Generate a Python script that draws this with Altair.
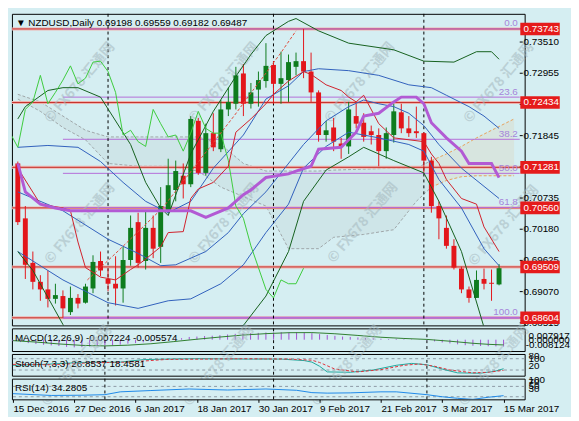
import altair as alt
import pandas as pd

# ---------------- values ----------------
title_text = "▼ NZDUSD,Daily  0.69198 0.69559 0.69182 0.69487"
date_labels = ["15 Dec 2016", "27 Dec 2016", "6 Jan 2017", "18 Jan 2017", "30 Jan 2017",
               "9 Feb 2017", "21 Feb 2017", "3 Mar 2017", "15 Mar 2017"]
date_ticks = [0, 8, 16, 24, 32, 40, 48, 56, 64]
month_starts = [12, 34, 54]

opens = [0.71350, 0.70373, 0.69581, 0.69244, 0.69109, 0.68941, 0.68991, 0.68705, 0.68958, 0.68873,
         0.69126, 0.69615, 0.69295, 0.69210, 0.69126, 0.69632, 0.70306, 0.69615, 0.70204, 0.69867,
         0.70508, 0.70878, 0.71131, 0.70980, 0.72108, 0.71182, 0.71889, 0.71603, 0.72311, 0.72412,
         0.72951, 0.72412, 0.72664, 0.72816, 0.73103, 0.72766, 0.72833, 0.73069, 0.73170, 0.72985,
         0.72614, 0.71856, 0.71990, 0.71704, 0.71653, 0.72193, 0.72075, 0.71923, 0.71856, 0.71569,
         0.71856, 0.72260, 0.71974, 0.71923, 0.71889, 0.71401, 0.70592, 0.70204, 0.69884, 0.69480,
         0.69109, 0.68958, 0.69295, 0.69227, 0.69198]
highs = [0.71384, 0.70592, 0.69783, 0.69362, 0.69446, 0.69210, 0.69092, 0.69160, 0.69025, 0.69210,
         0.69716, 0.69783, 0.69480, 0.69699, 0.69867, 0.70424, 0.70474, 0.70508, 0.70424, 0.70929,
         0.71434, 0.71401, 0.71350, 0.72193, 0.72159, 0.72058, 0.72243, 0.72479, 0.72698, 0.73069,
         0.73119, 0.72782, 0.72985, 0.73490, 0.73170, 0.73338, 0.73288, 0.73322, 0.73743, 0.73322,
         0.72650, 0.72108, 0.72159, 0.71805, 0.72445, 0.72412, 0.72243, 0.72024, 0.71974, 0.71990,
         0.72412, 0.72412, 0.72193, 0.72361, 0.71906, 0.71468, 0.70676, 0.70424, 0.70002, 0.69514,
         0.69160, 0.69446, 0.69480, 0.69463, 0.69559]
lows = [0.70255, 0.69295, 0.69109, 0.68907, 0.68789, 0.68857, 0.68604, 0.68654, 0.68772, 0.68857,
        0.69042, 0.69345, 0.69076, 0.68823, 0.68873, 0.69531, 0.69497, 0.69463, 0.69665, 0.69581,
        0.70457, 0.70676, 0.70727, 0.70929, 0.71148, 0.71131, 0.71569, 0.71552, 0.72193, 0.72311,
        0.72193, 0.72327, 0.72361, 0.72698, 0.72412, 0.72412, 0.72445, 0.72917, 0.72867, 0.72445,
        0.71738, 0.71738, 0.71569, 0.71434, 0.71519, 0.71974, 0.71738, 0.71687, 0.71300, 0.71434,
        0.71721, 0.71889, 0.71822, 0.71805, 0.71182, 0.70474, 0.70002, 0.69834, 0.69463, 0.69042,
        0.68873, 0.68958, 0.69109, 0.68907, 0.69182]
closes = [0.70306, 0.69547, 0.69244, 0.69109, 0.68941, 0.69008, 0.68772, 0.68958, 0.68857, 0.69160,
          0.69598, 0.69446, 0.69210, 0.69126, 0.69632, 0.70204, 0.69581, 0.70204, 0.69834, 0.70592,
          0.70963, 0.71215, 0.70980, 0.72142, 0.71182, 0.71889, 0.71637, 0.72311, 0.72445, 0.72917,
          0.72412, 0.72614, 0.72833, 0.73086, 0.72766, 0.72867, 0.73153, 0.73170, 0.72985, 0.72614,
          0.71856, 0.71940, 0.71738, 0.71653, 0.72311, 0.72058, 0.71822, 0.71856, 0.71569, 0.71889,
          0.72277, 0.71974, 0.71889, 0.71889, 0.71401, 0.70592, 0.70373, 0.69884, 0.69497, 0.69109,
          0.68958, 0.69278, 0.69210, 0.69210, 0.69487]

level_prices = [0.73743, 0.72434, 0.71281, 0.70560, 0.69509, 0.68604]
level_labels = ["0.73743", "0.72434", "0.71281", "0.70560", "0.69509", "0.68604"]
tick_prices = [0.73510, 0.72955, 0.72400, 0.71845, 0.71290, 0.70735, 0.70180, 0.69625, 0.69070, 0.68515]
tick_labels = ["0.73510", "0.72955", "0.72400", "0.71845", "0.71290", "0.70735", "0.70180",
               "0.69625", "0.69070", "0.68515"]
fib_prices = [0.73743, 0.72530, 0.71780, 0.71174, 0.70567, 0.68604]
fib_labels = ["0.0", "23.6", "38.2", "50.0", "61.8", "100.0"]
fib_widths = [1, 1, 1, 1, 1, 2]
fib_start_bar = 6

bb_up_bar = [0, 4, 8, 11, 14, 17, 20, 23, 26, 30, 33, 36, 38, 40, 44, 48, 52, 55, 57, 60, 62, 64]
bb_up_val = [0.71637, 0.71670, 0.71637, 0.71384, 0.71013, 0.70676, 0.70474, 0.70676, 0.71266, 0.71856,
             0.72496, 0.72732, 0.72985, 0.73035, 0.73001, 0.72917, 0.72749, 0.72698, 0.72563, 0.72361,
             0.72193, 0.71974]
bb_mid_bar = [0, 6, 12, 16, 19, 21, 25, 28, 30, 33, 35, 38, 41, 44, 46, 48, 50, 52, 54, 56, 59, 64]
bb_mid_val = [0.70845, 0.70508, 0.70002, 0.69750, 0.69531, 0.69547, 0.69783, 0.70120, 0.70457, 0.70845,
              0.71182, 0.71687, 0.72108, 0.72361, 0.72479, 0.72412, 0.72361, 0.72243, 0.72024, 0.71687,
              0.71266, 0.70727]
bb_low_bar = [0, 6, 12, 16, 20, 23, 27, 30, 33, 36, 38, 41, 44, 48, 52, 54, 56, 59, 62, 64]
bb_low_val = [0.69783, 0.69278, 0.68873, 0.68772, 0.68907, 0.68941, 0.69210, 0.69547, 0.70120, 0.70626,
              0.71266, 0.71653, 0.71906, 0.71805, 0.71687, 0.71569, 0.71064, 0.70558, 0.69834, 0.69531]

env_up_bar = [0, 1, 4, 6, 8, 11, 15, 17, 19, 20, 23, 26, 29, 31, 33, 36, 37, 40, 44, 50, 54, 58, 61, 63, 64]
env_up_val = [0.72142, 0.72361, 0.72648, 0.72698, 0.72698, 0.72530, 0.71687, 0.71013, 0.70558, 0.70424,
              0.71519, 0.72277, 0.72900, 0.73288, 0.73625, 0.73878, 0.73928, 0.73709, 0.73490, 0.73372,
              0.73170, 0.73153, 0.73338, 0.73338, 0.73204]
env_lo1_bar = [0, 2, 6, 7]
env_lo1_val = [0.69783, 0.69446, 0.68486, 0.68233]
env_lo2_bar = [28, 30, 33, 36, 38, 41, 44, 46, 50, 54, 56, 59, 62]
env_lo2_val = [0.68233, 0.68469, 0.68991, 0.69783, 0.70676, 0.71232, 0.71468, 0.71637, 0.71401, 0.71182,
               0.70676, 0.69783, 0.68435]

tenkan_bar = [0, 3, 6, 7, 8, 9, 11, 13, 15, 16, 17, 19, 20, 22, 23, 24, 26, 28, 29, 31, 33, 34, 36, 38,
              39, 41, 43, 44, 45, 46, 48, 50, 54, 55, 56, 57, 59, 61, 62, 64]
tenkan_val = [0.71266, 0.70626, 0.70558, 0.70508, 0.69952, 0.69497, 0.69328, 0.69278, 0.69463, 0.69547,
              0.69648, 0.69867, 0.70120, 0.70137, 0.70727, 0.70895, 0.71013, 0.71300, 0.71906, 0.72142,
              0.72412, 0.72580, 0.72816, 0.72985, 0.72934, 0.72749, 0.72648, 0.72530, 0.72445, 0.72563,
              0.72058, 0.71805, 0.71738, 0.71519, 0.71350, 0.71064, 0.70727, 0.70626, 0.70221, 0.69783]
kijun_bar = [0, 1, 3, 5, 7, 23, 25, 28, 30, 31, 33, 36, 37, 39, 40, 43, 45, 46, 48, 50, 51, 53, 54, 55,
             57, 59, 60, 63, 64]
kijun_val = [0.71350, 0.70845, 0.70626, 0.70558, 0.70508, 0.70508, 0.70390, 0.70558, 0.70794, 0.70878,
             0.71100, 0.71165, 0.71215, 0.71300, 0.71603, 0.71637, 0.71906, 0.72193, 0.72243, 0.72445,
             0.72530, 0.72530, 0.72412, 0.72075, 0.71805, 0.71569, 0.71350, 0.71350, 0.71097]

cloud_bar = [0, 3, 6, 9, 12, 16, 20, 24, 27, 30, 33, 36, 40, 42, 46, 50, 53, 55, 57, 59, 61, 63, 65, 66]
cloud_top = [0.72580, 0.72445, 0.72193, 0.71940, 0.71822, 0.71822, 0.71822, 0.71822, 0.71687, 0.71350,
             0.71215, 0.71215, 0.71215, 0.71232, 0.71249, 0.71266, 0.71266, 0.71401, 0.71519, 0.71653,
             0.71805, 0.71940, 0.72075, 0.72142]
cloud_bot = [0.72496, 0.72277, 0.71990, 0.71771, 0.71350, 0.71300, 0.71300, 0.71215, 0.70929, 0.70760,
             0.70592, 0.69834, 0.69834, 0.70036, 0.70087, 0.70171, 0.70676, 0.70929, 0.71047, 0.71114,
             0.71131, 0.71131, 0.71131, 0.71131]
cloud_switch_bar = 55

trend_bar = [9.25, 13.4, 19.25, 28.75, 31.25, 32.5, 35, 37]
trend_val = [0.69278, 0.69800, 0.70558, 0.72193, 0.72648, 0.72867, 0.73322, 0.73709]

macd_title = "MACD(12,26,9) -0.007224 -0.005574"
macd_hist = [-0.0015, -0.0025, -0.0036, -0.0046, -0.0054, -0.0060, -0.0066, -0.0076, -0.008124, -0.0079,
             -0.0072, -0.0067, -0.0063, -0.0059, -0.0052, -0.0042, -0.0036, -0.0028, -0.0023, -0.0013,
             -0.0002, 0.0009, 0.0016, 0.0029, 0.0033, 0.0039, 0.0042, 0.0048, 0.0055, 0.0062,
             0.0065, 0.0069, 0.0072, 0.0076, 0.0077, 0.007917, 0.00785, 0.0077, 0.0074, 0.0069,
             0.0059, 0.0049, 0.0041, 0.0033, 0.0029, 0.0024, 0.0019, 0.0015, 0.0010, 0.0007,
             0.0008, 0.0006, 0.0004, 0.0002, -0.0006, -0.0018, -0.0029, -0.0039, -0.0049, -0.0058,
             -0.0064, -0.0067, -0.0069, -0.0071, -0.007224]
macd_sig_bar = [0, 3, 6, 9, 12, 15, 18, 21, 24, 27, 30, 33, 36, 39, 42, 45, 48, 51, 54, 57, 60, 62, 64]
macd_sig_val = [-0.0010, -0.0025, -0.0045, -0.0060, -0.0066, -0.0058, -0.0043, -0.0020, 0.0005, 0.0028,
                0.0049, 0.0064, 0.0074, 0.0075, 0.0063, 0.0045, 0.0026, 0.0013, 0.0003, -0.0016,
                -0.0038, -0.0049, -0.005574]
macd_axis_labels = ["0.007917", "0.000000", "-0.008124"]

stoch_title = "Stoch(7,3,3) 26.8537 18.4581"
stoch_main_bar = [0, 4, 9, 14, 17, 20, 24, 30, 35, 38, 39, 40, 41, 44, 47, 50, 52, 54, 56, 58, 61, 63, 64]
stoch_main_val = [45, 50, 60, 62, 75, 78, 80, 78, 78, 70, 62, 40, 10, 8, 20, 45, 55, 48, 25, 5, 3, 15, 26.85]
stoch_sig_bar = [0, 5, 10, 15, 20, 30, 36, 39, 40, 42, 45, 48, 51, 53, 55, 57, 60, 62, 64]
stoch_sig_val = [50, 48, 58, 62, 76, 80, 78, 72, 60, 25, 10, 22, 45, 52, 40, 20, 5, 8, 18.46]
stoch_levels = [80, 20]

rsi_title = "RSI(14) 34.2805"
rsi_bar = [0, 5, 9, 12, 14, 18, 23, 28, 33, 37, 39, 41, 44, 48, 50, 54, 56, 58, 60, 62, 64]
rsi_val = [42, 35, 36, 38, 49, 54, 60, 56, 60, 55, 46, 44, 45, 49, 49, 38, 30, 24, 20, 28, 34.28]
rsi_levels = [70, 30]

watermark = "© FX678 汇通网"

# ---------------- layout & style ----------------
FONT = "Liberation Sans"
BG = "#D5EEF2"
UP_C, DN_C = "#0E7C1E", "#E3161B"
LEVEL_RED, LEVEL_HALO = "#C4302B", "#EFB4B0"
FIB_C, FIB_TXT = "#B56ED8", "#A585DA"
BLUE = "#3060BC"
DKGREEN = "#14601C"
LIME = "#3CCB3C"
TENKAN = "#D0202A"
KIJUN = "#B25AD4"
CLOUD_G, CLOUD_O = "#9EA6A8", "#E8A25A"
TREND = "#E04A3A"
BOX = "#E51B1B"
BOX_PATH = "M-1,-0.32L1,-0.32L1,0.32L-1,0.32Z"

W = 520
H_MAIN, H_MACD, H_STO, H_RSI = 316, 23, 22, 21
X0, X1 = -0.125, 66.75
P_LO, P_HI = 0.68469, 0.74012
LABEL_X = X1 + 0.5
BOX_X = 69.45

xs = alt.Scale(domain=[X0, X1], nice=False, zero=False)
ys_main = alt.Scale(domain=[P_LO, P_HI], nice=False, zero=False)
ys_macd = alt.Scale(domain=[-0.012, 0.012], nice=False, zero=False)
ys_sto = alt.Scale(domain=[-10, 105], nice=False, zero=False)
ys_rsi = alt.Scale(domain=[20, 100], nice=False, zero=False)

ticks_js = "[" + ",".join(str(t) for t in date_ticks) + "]"
labels_js = "[" + ",".join("'" + d + "'" for d in date_labels) + "]"
date_axis = alt.Axis(values=date_ticks, labelExpr=labels_js + "[indexof(" + ticks_js + ", datum.value)]",
                     orient="bottom", domain=False, ticks=True, tickSize=3, tickColor="black",
                     labelAlign="left", labelBaseline="top", labelPadding=1, labelFontSize=10,
                     labelFont=FONT, labelColor="black", labelOverlap=False, labelFlush=False,
                     grid=False, title=None)


def xq(field, axis=None):
    return alt.X(field, type="quantitative", scale=xs, axis=axis)


def yq(field, scale):
    return alt.Y(field, type="quantitative", scale=scale, axis=None)


def line(bx, vals, color, scale, width=1.0, dash=None, xaxis=None):
    df = pd.DataFrame({"bar": bx, "v": vals})
    kw = dict(color=color, strokeWidth=width, clip=True)
    if dash:
        kw["strokeDash"] = dash
    return alt.Chart(df).mark_line(**kw).encode(x=xq("bar", xaxis), y=yq("v", scale))


def seps(xaxis=None):
    return alt.Chart(pd.DataFrame({"bar": month_starts})).mark_rule(
        color="black", strokeDash=[3, 3], strokeWidth=1).encode(x=xq("bar", xaxis))


def pix_text(texts, xs_px, ys_px, **kw):
    df = pd.DataFrame({"t": texts, "px": xs_px, "py": ys_px})
    return alt.Chart(df).mark_text(**kw).encode(
        x=alt.X("px:Q", scale=None, axis=None), y=alt.Y("py:Q", scale=None, axis=None), text="t:N")


# ---------------- main panel ----------------
cdf = pd.DataFrame({"bar": list(range(len(opens))), "open": opens, "high": highs,
                    "low": lows, "close": closes})
cdf["dir"] = ["up" if c >= o else "down" for o, c in zip(opens, closes)]
ccol = alt.Color("dir:N", scale=alt.Scale(domain=["up", "down"], range=[UP_C, DN_C]), legend=None)

cl = pd.DataFrame({"bar": cloud_bar, "top": cloud_top, "bot": cloud_bot})
cl_g = cl[cl.bar <= cloud_switch_bar]
cl_o = cl[cl.bar >= cloud_switch_bar]


def cloud_layers(d, col):
    a = alt.Chart(d).mark_area(color=col, opacity=0.12, clip=True).encode(
        x=xq("bar"), y=yq("top", ys_main), y2="bot")
    t = alt.Chart(d).mark_line(color=col, strokeDash=[3, 2], strokeWidth=1, clip=True).encode(
        x=xq("bar"), y=yq("top", ys_main))
    b = alt.Chart(d).mark_line(color=col, strokeDash=[3, 2], strokeWidth=1, clip=True).encode(
        x=xq("bar"), y=yq("bot", ys_main))
    return [a, t, b]


lv = pd.DataFrame({"p": level_prices, "lab": level_labels, "bx": BOX_X, "lx": LABEL_X})
halo = alt.Chart(lv).mark_rule(color=LEVEL_HALO, strokeWidth=3).encode(y=yq("p", ys_main))
lvl = alt.Chart(lv).mark_rule(color=LEVEL_RED, strokeWidth=1).encode(y=yq("p", ys_main))

fb = pd.DataFrame({"p": fib_prices, "lab": fib_labels, "w": fib_widths,
                   "x0": fib_start_bar, "x1": X1, "tx": X1 - 0.25})
fib_rule = alt.Chart(fb).mark_rule(color=FIB_C).encode(
    x=xq("x0"), x2="x1", y=yq("p", ys_main), strokeWidth=alt.StrokeWidth("w:Q", scale=None))
fib_txt = alt.Chart(fb).mark_text(align="right", baseline="middle", dy=-5.5, fontSize=10,
                                  font=FONT, color=FIB_TXT).encode(
    x=xq("tx"), y=yq("p", ys_main), text="lab:N")

wick = alt.Chart(cdf).mark_rule(strokeWidth=1).encode(
    x=xq("bar"), y=yq("low", ys_main), y2="high", color=ccol)
body = alt.Chart(cdf).mark_bar(size=5).encode(
    x=xq("bar"), y=yq("open", ys_main), y2="close", color=ccol)

chikou = alt.Chart(cdf).transform_calculate(sb="datum.bar - 26").mark_line(
    color=LIME, strokeWidth=1, clip=True).encode(x=xq("sb:Q"), y=yq("close", ys_main))

tk = pd.DataFrame({"p": tick_prices, "lab": tick_labels, "x0": X1, "x1": X1 + 0.4, "lx": LABEL_X})
tick_rule = alt.Chart(tk).mark_rule(color="black").encode(x=xq("x0"), x2="x1", y=yq("p", ys_main))
tick_txt = alt.Chart(tk).mark_text(align="left", baseline="middle", fontSize=10, font=FONT,
                                   color="black").encode(x=xq("lx"), y=yq("p", ys_main), text="lab:N")
box = alt.Chart(lv).mark_point(shape=BOX_PATH, size=1600, filled=True, color=BOX, opacity=1,
                               strokeWidth=0).encode(x=xq("bx"), y=yq("p", ys_main))
box_txt = alt.Chart(lv).mark_text(align="left", baseline="middle", fontSize=10, font=FONT,
                                  color="white").encode(x=xq("lx"), y=yq("p", ys_main), text="lab:N")

wm_main = pix_text([watermark] * 8, [69, 215, 353, 494, 69, 215, 356, 499],
                   [70, 70, 70, 70, 213, 213, 212, 215],
                   angle=310, fontSize=14, fontWeight="bold", font="Noto Sans CJK SC",
                   color="#A5B8BE", opacity=0.55)
title = pix_text([title_text], [4], [9], align="left", baseline="middle", fontSize=10,
                 font=FONT, color="black")

main = alt.layer(
    *cloud_layers(cl_g, CLOUD_G), *cloud_layers(cl_o, CLOUD_O),
    halo, lvl, fib_rule, seps(),
    wm_main,
    wick, body,
    line(bb_up_bar, bb_up_val, BLUE, ys_main),
    line(bb_mid_bar, bb_mid_val, BLUE, ys_main),
    line(bb_low_bar, bb_low_val, BLUE, ys_main),
    line(env_up_bar, env_up_val, DKGREEN, ys_main),
    line(env_lo1_bar, env_lo1_val, DKGREEN, ys_main),
    line(env_lo2_bar, env_lo2_val, DKGREEN, ys_main),
    chikou,
    line(trend_bar, trend_val, TREND, ys_main, dash=[3, 2]),
    line(tenkan_bar, tenkan_val, TENKAN, ys_main),
    line(kijun_bar, kijun_val, KIJUN, ys_main, width=3),
    fib_txt, tick_rule, tick_txt, box, box_txt, title,
).properties(width=W, height=H_MAIN)

# ---------------- MACD ----------------
mh = pd.DataFrame({"bar": list(range(len(macd_hist))), "v": macd_hist, "z": 0.0})
hist = alt.Chart(mh).mark_rule(color="#A050D0", strokeWidth=1).encode(
    x=xq("bar"), y=yq("v", ys_macd), y2="z")
macd = alt.layer(
    seps(), hist,
    line(macd_sig_bar, macd_sig_val, "#2E7D2E", ys_macd),
    pix_text([macd_title], [3], [10], align="left", baseline="middle", fontSize=10, font=FONT,
             color="black"),
    pix_text(macd_axis_labels, [W + 4, W + 4, W + 1], [7.5, 12, 16.5], align="left",
             baseline="middle", fontSize=10, font=FONT, color="black"),
).properties(width=W, height=H_MACD)

# ---------------- Stochastic ----------------
sto_lv = alt.Chart(pd.DataFrame({"v": stoch_levels})).mark_rule(
    color="#8C98A4", strokeDash=[3, 3], strokeWidth=1).encode(y=yq("v", ys_sto))
sto = alt.layer(
    sto_lv, seps(),
    line(stoch_main_bar, stoch_main_val, "#20A89C", ys_sto),
    line(stoch_sig_bar, stoch_sig_val, "#E0303A", ys_sto, dash=[3, 2]),
    pix_text([stoch_title], [3], [10], align="left", baseline="middle", fontSize=10, font=FONT,
             color="black"),
    pix_text(["80", "100", "20"], [W + 4, W + 4, W + 4], [2.5, 5.5, 12.5], align="left",
             baseline="middle", fontSize=10, font=FONT, color="black"),
    pix_text([watermark] * 4, [66, 210, 340, 489], [12, 12, 12, 12],
             angle=310, fontSize=14, fontWeight="bold", font="Noto Sans CJK SC",
             color="#A5B8BE", opacity=0.5),
).properties(width=W, height=H_STO)

# ---------------- RSI ----------------
rsi_lv = alt.Chart(pd.DataFrame({"v": rsi_levels})).mark_rule(
    color="#8C98A4", strokeDash=[3, 3], strokeWidth=1).encode(y=yq("v", ys_rsi))
rsi = alt.layer(
    rsi_lv, seps(date_axis),
    line(rsi_bar, rsi_val, "#1E88E8", ys_rsi, xaxis=date_axis),
    pix_text([rsi_title], [3], [9.5], align="left", baseline="middle", fontSize=10, font=FONT,
             color="black"),
    pix_text(["100", "70", "50", "30"], [W + 4, W + 4, W + 4, W + 4], [1.5, 3.5, 7.5, 11],
             align="left", baseline="middle", fontSize=10, font=FONT, color="black"),
).properties(width=W, height=H_RSI)

chart = alt.vconcat(main, macd, sto, rsi, spacing=3, bounds="flush").properties(
    padding={"left": 2, "top": 2, "right": 0, "bottom": 0}, background=BG
).configure_view(stroke="black", strokeWidth=1, fill=BG)

chart.save("out.html", embed_options={"renderer": "svg", "actions": False})
